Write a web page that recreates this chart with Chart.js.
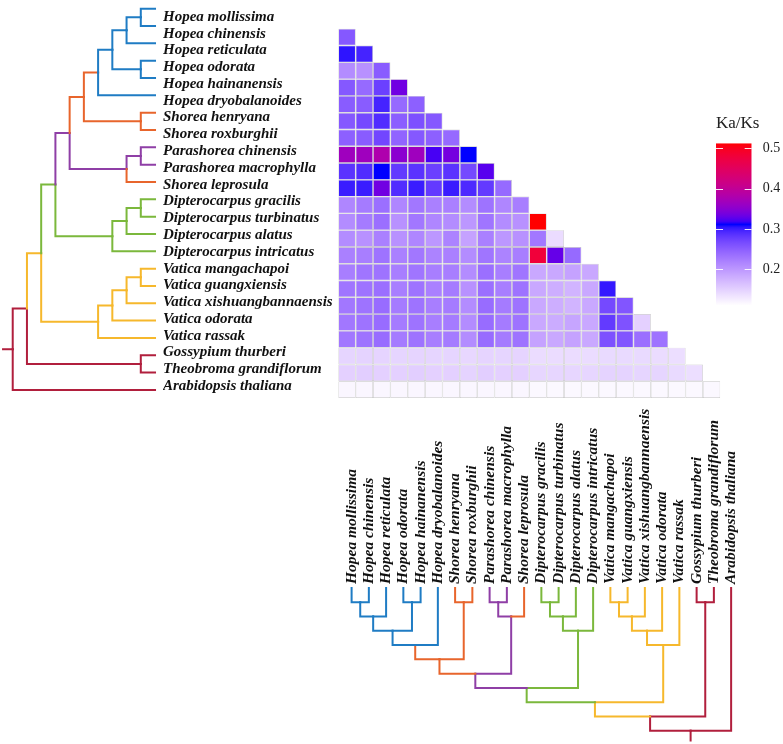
<!DOCTYPE html>
<html><head><meta charset="utf-8">
<script src="https://cdn.jsdelivr.net/npm/chart.js@4.4.1/dist/chart.umd.min.js"></script>
<style>
html,body{margin:0;padding:0;background:#fff;width:783px;height:744px;overflow:hidden;}
canvas{position:absolute;display:block;}
</style></head><body>
<canvas id="dendLeft" width="160" height="410" style="left:0;top:0"></canvas>
<canvas id="heat" width="600" height="410" style="left:155px;top:0"></canvas>
<canvas id="dendBottom" width="420" height="344" style="left:330px;top:400px"></canvas>
<canvas id="legend" width="78" height="215" style="left:705px;top:110px"></canvas>
<script>
// ---------------- DATA ----------------
const species = [
  "Hopea mollissima","Hopea chinensis","Hopea reticulata","Hopea odorata","Hopea hainanensis",
  "Hopea dryobalanoides","Shorea henryana","Shorea roxburghii","Parashorea chinensis",
  "Parashorea macrophylla","Shorea leprosula","Dipterocarpus gracilis","Dipterocarpus turbinatus",
  "Dipterocarpus alatus","Dipterocarpus intricatus","Vatica mangachapoi","Vatica guangxiensis",
  "Vatica xishuangbannaensis","Vatica odorata","Vatica rassak","Gossypium thurberi",
  "Theobroma grandiflorum","Arabidopsis thaliana"
];

// Ka/Ks, lower triangle: row r holds values against columns 0..r-1
const kaksRows = [
  [],
  [0.255],
  [0.304, 0.296],
  [0.21, 0.205, 0.252],
  [0.255, 0.24, 0.275, 0.335],
  [0.252, 0.252, 0.296, 0.24, 0.248],
  [0.255, 0.268, 0.29, 0.25, 0.262, 0.255],
  [0.248, 0.252, 0.27, 0.245, 0.255, 0.248, 0.24],
  [0.365, 0.365, 0.38, 0.35, 0.365, 0.32, 0.337, 0.311],
  [0.285, 0.29, 0.311, 0.28, 0.285, 0.275, 0.285, 0.268, 0.325],
  [0.30, 0.30, 0.335, 0.29, 0.30, 0.28, 0.30, 0.292, 0.28, 0.24],
  [0.215, 0.225, 0.235, 0.215, 0.228, 0.22, 0.22, 0.21, 0.232, 0.215, 0.222],
  [0.21, 0.225, 0.235, 0.205, 0.228, 0.215, 0.21, 0.20, 0.23, 0.21, 0.205, 0.512],
  [0.21, 0.205, 0.22, 0.205, 0.215, 0.20, 0.218, 0.19, 0.22, 0.20, 0.205, 0.228, 0.14],
  [0.22, 0.222, 0.232, 0.22, 0.228, 0.218, 0.22, 0.21, 0.23, 0.218, 0.222, 0.48, 0.33, 0.24],
  [0.222, 0.23, 0.232, 0.222, 0.23, 0.222, 0.222, 0.21, 0.235, 0.222, 0.23, 0.185, 0.185, 0.19, 0.185],
  [0.23, 0.232, 0.235, 0.222, 0.232, 0.22, 0.225, 0.205, 0.235, 0.222, 0.232, 0.185, 0.18, 0.175, 0.185, 0.302],
  [0.228, 0.232, 0.238, 0.225, 0.232, 0.222, 0.225, 0.21, 0.238, 0.225, 0.232, 0.185, 0.18, 0.175, 0.185, 0.268, 0.258],
  [0.228, 0.232, 0.238, 0.225, 0.232, 0.222, 0.225, 0.21, 0.238, 0.225, 0.232, 0.185, 0.182, 0.188, 0.185, 0.28, 0.26, 0.15],
  [0.228, 0.232, 0.238, 0.225, 0.232, 0.222, 0.225, 0.21, 0.238, 0.225, 0.232, 0.19, 0.185, 0.19, 0.185, 0.262, 0.258, 0.235, 0.232],
  [0.146, 0.148, 0.147, 0.146, 0.147, 0.146, 0.146, 0.144, 0.147, 0.146, 0.147, 0.14, 0.14, 0.14, 0.14, 0.142, 0.142, 0.142, 0.14, 0.138],
  [0.15, 0.152, 0.15, 0.15, 0.152, 0.15, 0.15, 0.148, 0.152, 0.15, 0.15, 0.145, 0.145, 0.145, 0.145, 0.148, 0.148, 0.146, 0.146, 0.142, 0.138],
  [0.118, 0.118, 0.118, 0.118, 0.118, 0.118, 0.118, 0.118, 0.118, 0.118, 0.118, 0.116, 0.116, 0.116, 0.116, 0.116, 0.116, 0.116, 0.116, 0.116, 0.116, 0.116]
];

// Tree (tips 0..22, internal nodes 23..44 in merge order)
const tipGroups   = ["blue","blue","blue","blue","blue","blue","orange","orange","purple","purple","orange",
                     "green","green","green","green","gold","gold","gold","gold","gold","crimson","crimson","crimson"];
const mergeLeft   = [0, 23, 3, 24, 26, 6, 27, 8, 30, 29, 11, 33, 34, 32, 15, 37, 38, 39, 36, 20, 41, 43];
const mergeRight  = [1, 2, 4, 25, 5, 7, 28, 9, 10, 31, 12, 13, 14, 35, 16, 17, 18, 19, 40, 21, 42, 22];
const mergeLevel  = [1, 2, 1, 3, 4, 1, 5, 1, 2, 6, 1, 2, 3, 7, 1, 2, 3, 4, 8, 1, 9, 10];
const mergeGroup  = ["blue","blue","blue","blue","orange","orange","orange","purple","purple","purple",
                     "green","green","green","green","gold","gold","gold","gold","gold","crimson","crimson","crimson"];
const rootStemLevel = 10.68;

// Colour scale
const scaleMin = 0.11, scaleMid = 0.311, scaleMax = 0.512;
const legendTicks = [0.2, 0.3, 0.4, 0.5];

// ---------------- STYLE ----------------
const groupColors = {blue:"#1f7cc4", orange:"#e8652c", purple:"#8f3fa6", green:"#7bb83c", gold:"#f6b82c", crimson:"#b11f3d"};
const serif = "'Liberation Serif','Times New Roman',serif";
const bottomFont = 15.5;

// Lab interpolation helpers
function toLin(c){c/=255;return c<=0.04045?c/12.92:Math.pow((c+0.055)/1.055,2.4);}
function fromLin(c){c=Math.max(0,Math.min(1,c));return 255*(c<=0.0031308?12.92*c:1.055*Math.pow(c,1/2.4)-0.055);}
function rgb2lab(rgb){
  const [r,g,b]=rgb.map(toLin);
  let X=(0.4124*r+0.3576*g+0.1805*b)/0.95047, Y=(0.2126*r+0.7152*g+0.0722*b), Z=(0.0193*r+0.1192*g+0.9505*b)/1.08883;
  const f=t=>t>0.008856?Math.cbrt(t):7.787*t+16/116;
  const fx=f(X),fy=f(Y),fz=f(Z);
  return [116*fy-16,500*(fx-fy),200*(fy-fz)];
}
function lab2rgb(lab){
  const [L,a,b]=lab; const fy=(L+16)/116, fx=fy+a/500, fz=fy-b/200;
  const fi=t=>t*t*t>0.008856?t*t*t:(t-16/116)/7.787;
  const X=fi(fx)*0.95047, Y=fi(fy), Z=fi(fz)*1.08883;
  const r=3.2406*X-1.5372*Y-0.4986*Z, g=-0.9689*X+1.8758*Y+0.0415*Z, bb=0.0557*X-0.2040*Y+1.0570*Z;
  return [fromLin(r),fromLin(g),fromLin(bb)].map(v=>Math.round(v));
}
const stops=[[scaleMin,rgb2lab([255,255,255])],[scaleMid,rgb2lab([0,0,255])],[scaleMax,rgb2lab([255,0,0])]];
function colorFor(v){
  v=Math.max(scaleMin,Math.min(scaleMax,v));
  let i=v<=scaleMid?0:1; const [a0,c0]=stops[i],[a1,c1]=stops[i+1];
  const t=(v-a0)/(a1-a0);
  const c=lab2rgb([0,1,2].map(k=>c0[k]+(c1[k]-c0[k])*t));
  return `rgb(${c[0]},${c[1]},${c[2]})`;
}

// ---------------- TREE GEOMETRY ----------------
function buildTree(){
  const n=species.length, pos=species.map((_,i)=>i), lev=species.map(()=>0), grp=tipGroups.slice(), parent=[];
  mergeLeft.forEach((a,k)=>{const b=mergeRight[k], id=n+k; pos[id]=(pos[a]+pos[b])/2; lev[id]=mergeLevel[k]; grp[id]=mergeGroup[k]; parent[a]=id; parent[b]=id;});
  const edges=[];
  for(let id=0;id<pos.length;id++){
    const p=parent[id];
    if(p===undefined){ edges.push({g:grp[id],pts:[[pos[id],lev[id]],[pos[id],rootStemLevel]]}); }
    else edges.push({g:grp[id],pts:[[pos[id],lev[id]],[pos[id],lev[p]],[pos[p],lev[p]]]});
  }
  return edges;
}
const edges=buildTree();
const noLegend={legend:{display:false},tooltip:{enabled:false},title:{display:false}};

// Left dendrogram
new Chart(document.getElementById('dendLeft'),{
  type:'scatter',
  data:{datasets:edges.map(e=>({data:e.pts.map(([p,l])=>({x:l,y:p+1})),showLine:true,borderColor:groupColors[e.g],borderWidth:2,pointRadius:0,tension:0,clip:false,borderCapStyle:'square'}))},
  options:{responsive:false,animation:false,layout:{padding:0},plugins:noLegend,
    scales:{x:{type:'linear',reverse:true,min:-0.35,max:10.894,display:false},
            y:{type:'linear',reverse:true,min:0.498,max:24.158,display:false}}}
});

// Heatmap
const cells=[];
kaksRows.forEach((row,r)=>row.forEach((v,c)=>cells.push({y:species[r],x:[c,c+1],v})));
new Chart(document.getElementById('heat'),{
  type:'bar',
  data:{labels:species,datasets:[{data:cells,backgroundColor:ctx=>ctx.raw?colorFor(ctx.raw.v):'#fff',
        borderColor:'#c6c6c6',borderWidth:0.7,borderSkipped:false,barPercentage:1,categoryPercentage:1,inflateAmount:0}]},
  options:{indexAxis:'y',responsive:false,animation:false,plugins:noLegend,
    layout:{padding:{left:8,top:3.7,right:34.7,bottom:7.7}},
    scales:{
      x:{type:'linear',min:0,max:22,display:false},
      y:{type:'category',offset:true,grid:{display:false,drawTicks:false},border:{display:false},
         ticks:{autoSkip:false,crossAlign:'far',labelOffset:-3.5,color:'#111',font:{family:serif,size:15,weight:'bold',style:'italic'}},
         afterFit:s=>{s.width=175.3;}}
    }}
});

// Bottom dendrogram with column labels
new Chart(document.getElementById('dendBottom'),{
  type:'scatter',
  data:{datasets:edges.map(e=>({data:e.pts.map(([p,l])=>({x:p,y:l})),showLine:true,borderColor:groupColors[e.g],borderWidth:2,pointRadius:0,tension:0,clip:false,borderCapStyle:'square'}))},
  options:{responsive:false,animation:false,layout:{padding:0},plugins:noLegend,
    scales:{
      x:{type:'linear',position:'top',min:-1.016,max:23.094,grid:{display:false,drawTicks:false},border:{display:false},
         afterBuildTicks:s=>{s.ticks=species.map((_,i)=>({value:i}));},
         afterFit:s=>{s.height=187;},
         ticks:{autoSkip:false,minRotation:90,maxRotation:90,padding:3,labelOffset:bottomFont*1.2,color:'#111',
                font:{family:serif,size:bottomFont,weight:'bold',style:'italic'},
                callback:v=>species[Math.round(v)]}},
      y:{type:'linear',reverse:true,min:-0.07,max:10.93,display:false}
    }}
});

// Colour legend
const tickMarks={id:'tickMarks',afterDatasetsDraw(ch){
  const {ctx,chartArea:a,scales:{y}}=ch; ctx.save(); ctx.strokeStyle='rgba(255,255,255,0.9)'; ctx.lineWidth=1;
  legendTicks.forEach(t=>{const py=Math.round(y.getPixelForValue(t))+0.5; ctx.beginPath();
    ctx.moveTo(a.left,py);ctx.lineTo(a.left+7,py);ctx.moveTo(a.right-7,py);ctx.lineTo(a.right,py);ctx.stroke();});
  ctx.restore();}};
new Chart(document.getElementById('legend'),{
  type:'bar',
  data:{labels:[''],datasets:[{data:[[scaleMin,scaleMax]],barPercentage:1,categoryPercentage:1,borderWidth:0,inflateAmount:0,
    backgroundColor:ctx=>{const ch=ctx.chart; if(!ch.chartArea) return '#fff'; const y=ch.scales.y;
      const y0=y.getPixelForValue(scaleMin), y1=y.getPixelForValue(scaleMax);
      const g=ch.ctx.createLinearGradient(0,y0,0,y1);
      for(let i=0;i<=60;i++){g.addColorStop(i/60,colorFor(scaleMin+(scaleMax-scaleMin)*i/60));}
      return g;}}]},
  options:{responsive:false,animation:false,layout:{padding:{left:11,top:0,right:0,bottom:8}},
    plugins:{legend:{display:false},tooltip:{enabled:false},
      title:{display:true,text:'Ka/Ks',align:'start',color:'#222',font:{family:serif,size:17,weight:'normal'},padding:{top:3,bottom:9.9}}},
    scales:{
      x:{type:'category',display:false},
      y:{type:'linear',position:'right',min:scaleMin,max:scaleMax,grid:{display:false,drawTicks:false},border:{display:false},
         afterBuildTicks:s=>{s.ticks=legendTicks.map(v=>({value:v}));},
         afterFit:s=>{s.width=31.3;},
         ticks:{padding:11,color:'#222',font:{family:serif,size:14},callback:v=>v.toFixed(1)}}
    }},
  plugins:[tickMarks]
});
</script>
</body></html>
